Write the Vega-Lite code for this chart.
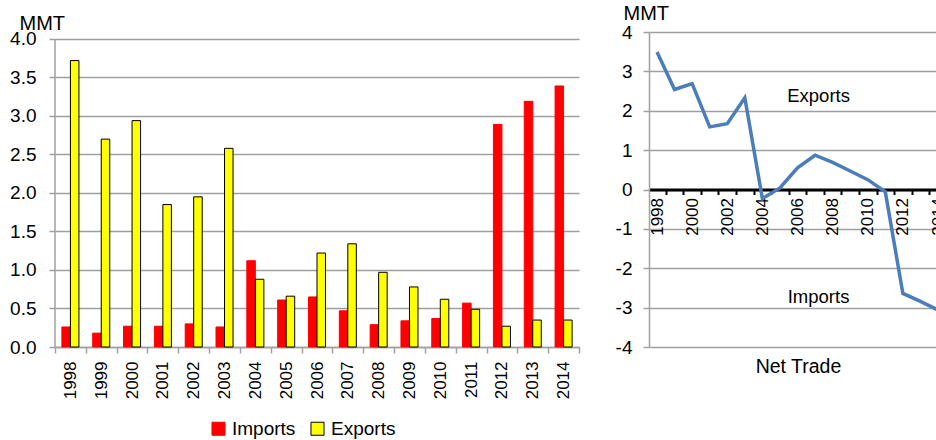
{
  "$schema": "https://vega.github.io/schema/vega-lite/v6.json",
  "padding": {"left": 9, "top": 3, "right": 0, "bottom": 0},
  "background": "#ffffff",
  "config": {
    "font": "Liberation Sans",
    "view": {"stroke": null},
    "axis": {
      "labelColor": "#000000",
      "labelFont": "Liberation Sans",
      "labelFontSize": 19,
      "titleFont": "Liberation Sans",
      "titleFontSize": 20,
      "titleFontWeight": "normal",
      "titleColor": "#000000",
      "gridColor": "#A0A0A0",
      "gridWidth": 1.5,
      "domainColor": "#A0A0A0",
      "domainWidth": 1.5,
      "tickColor": "#A0A0A0",
      "tickWidth": 1.5,
      "tickSize": 6
    },
    "legend": {"labelFont": "Liberation Sans"},
    "title": {"font": "Liberation Sans"}
  },
  "datasets": {
    "bars": [
      {"year": "1998", "type": "Imports", "value": 0.26}, {"year": "1998", "type": "Exports", "value": 3.72},
      {"year": "1999", "type": "Imports", "value": 0.18}, {"year": "1999", "type": "Exports", "value": 2.70},
      {"year": "2000", "type": "Imports", "value": 0.27}, {"year": "2000", "type": "Exports", "value": 2.94},
      {"year": "2001", "type": "Imports", "value": 0.27}, {"year": "2001", "type": "Exports", "value": 1.85},
      {"year": "2002", "type": "Imports", "value": 0.30}, {"year": "2002", "type": "Exports", "value": 1.95},
      {"year": "2003", "type": "Imports", "value": 0.26}, {"year": "2003", "type": "Exports", "value": 2.58},
      {"year": "2004", "type": "Imports", "value": 1.12}, {"year": "2004", "type": "Exports", "value": 0.88},
      {"year": "2005", "type": "Imports", "value": 0.61}, {"year": "2005", "type": "Exports", "value": 0.66},
      {"year": "2006", "type": "Imports", "value": 0.65}, {"year": "2006", "type": "Exports", "value": 1.22},
      {"year": "2007", "type": "Imports", "value": 0.47}, {"year": "2007", "type": "Exports", "value": 1.34},
      {"year": "2008", "type": "Imports", "value": 0.29}, {"year": "2008", "type": "Exports", "value": 0.97},
      {"year": "2009", "type": "Imports", "value": 0.34}, {"year": "2009", "type": "Exports", "value": 0.78},
      {"year": "2010", "type": "Imports", "value": 0.37}, {"year": "2010", "type": "Exports", "value": 0.62},
      {"year": "2011", "type": "Imports", "value": 0.57}, {"year": "2011", "type": "Exports", "value": 0.49},
      {"year": "2012", "type": "Imports", "value": 2.89}, {"year": "2012", "type": "Exports", "value": 0.27},
      {"year": "2013", "type": "Imports", "value": 3.19}, {"year": "2013", "type": "Exports", "value": 0.35},
      {"year": "2014", "type": "Imports", "value": 3.39}, {"year": "2014", "type": "Exports", "value": 0.35}
    ],
    "net": [
      {"year": 1998, "net": 3.49}, {"year": 1999, "net": 2.54}, {"year": 2000, "net": 2.69},
      {"year": 2001, "net": 1.59}, {"year": 2002, "net": 1.67}, {"year": 2003, "net": 2.33},
      {"year": 2004, "net": -0.23}, {"year": 2005, "net": 0.04}, {"year": 2006, "net": 0.55},
      {"year": 2007, "net": 0.87}, {"year": 2008, "net": 0.69}, {"year": 2009, "net": 0.47},
      {"year": 2010, "net": 0.25}, {"year": 2011, "net": -0.06}, {"year": 2012, "net": -2.64},
      {"year": 2013, "net": -2.84}, {"year": 2014, "net": -3.06}
    ]
  },
  "spacing": 35,
  "hconcat": [
    {
      "width": 524,
      "height": 315,
      "resolve": {"axis": {"x": "independent", "y": "independent"}},
      "layer": [
        {
          "data": {"name": "bars"},
          "mark": {"type": "bar", "strokeWidth": 1},
          "encoding": {
            "x": {
              "field": "year", "type": "nominal",
              "scale": {"paddingInner": 0, "paddingOuter": 0},
              "axis": {"title": null, "labelAngle": -90, "tickBand": "extent", "labelFontSize": 17, "labelPadding": 8, "grid": false}
            },
            "xOffset": {"field": "type", "type": "nominal", "sort": ["Imports", "Exports"], "scale": {"paddingOuter": 0.81, "paddingInner": 0}},
            "y": {
              "field": "value", "type": "quantitative",
              "scale": {"domain": [0, 4.0909], "nice": false},
              "axis": {
                "values": [0, 0.5, 1, 1.5, 2, 2.5, 3, 3.5, 4],
                "format": ".1f",
                "title": "MMT",
                "titleAngle": 0,
                "titleAlign": "left",
                "titleBaseline": "alphabetic",
                "titleX": -36,
                "titleY": -3,
                "labelPadding": 13,
                "domain": false,
                "grid": true
              }
            },
            "fill": {
              "field": "type", "type": "nominal", "sort": ["Imports", "Exports"],
              "scale": {"domain": ["Imports", "Exports"], "range": ["#FF0000", "#FFFF00"]},
              "legend": {"orient": "none", "legendX": 154, "legendY": 387, "direction": "horizontal", "title": null, "symbolType": "square", "symbolSize": 170, "labelFontSize": 19, "columnPadding": 12, "labelOffset": 4, "symbolStrokeWidth": 1}
            },
            "stroke": {
              "field": "type", "type": "nominal", "sort": ["Imports", "Exports"],
              "scale": {"domain": ["Imports", "Exports"], "range": ["#FF0000", "#000000"]},
              "legend": {"orient": "none", "legendX": 154, "legendY": 387, "direction": "horizontal", "title": null, "symbolType": "square", "symbolSize": 170, "labelFontSize": 19, "columnPadding": 12, "labelOffset": 4, "symbolStrokeWidth": 1}
            }
          }
        },
        {
          "data": {"values": [{"edge": "left"}]},
          "mark": {"type": "rule", "color": "#A0A0A0", "strokeWidth": 1.5},
          "encoding": {
            "x": {"datum": "1998", "type": "nominal", "bandPosition": 0, "axis": null},
            "y": {"datum": 0, "type": "quantitative", "axis": null},
            "y2": {"datum": 4}
          }
        }
      ]
    },
    {
      "width": 289,
      "height": 315,
      "title": {"text": "Net Trade", "orient": "bottom", "fontSize": 19.5, "fontWeight": "normal", "color": "#000000", "offset": 1, "dx": 5},
      "resolve": {"axis": {"x": "independent", "y": "independent"}},
      "layer": [
        {
          "data": {"name": "net"},
          "mark": {"type": "line", "color": "#4A7EBB", "strokeWidth": 3.5, "clip": true},
          "encoding": {
            "x": {
              "field": "year", "type": "quantitative",
              "scale": {"domain": [1997.544, 2014], "nice": false, "zero": false},
              "axis": {
                "title": null,
                "offset": -157.5,
                "values": [1998, 1998.5, 1999.5, 2000, 2000.5, 2001.5, 2002, 2002.5, 2003.5, 2004, 2004.5, 2005.5, 2006, 2006.5, 2007.5, 2008, 2008.5, 2009.5, 2010, 2010.5, 2011.5, 2012, 2012.5, 2013.5, 2014],
                "labelExpr": "datum.value % 2 === 0 ? '' + datum.value : ''",
                "labelAngle": -90,
                "labelFontSize": 17,
                "labelPadding": 3,
                "labelOverlap": false,
                "labelFlush": false,
                "domainColor": "#000000",
                "domainWidth": 3,
                "tickColor": "#000000",
                "tickWidth": 2,
                "tickSize": 5,
                "tickOpacity": {"condition": {"test": "datum.value % 1 === 0", "value": 0}, "value": 1},
                "grid": false
              }
            },
            "y": {
              "field": "net", "type": "quantitative",
              "scale": {"domain": [-4, 4], "nice": false},
              "axis": {
                "values": [-4, -3, -2, -1, 0, 1, 2, 3, 4],
                "labelExpr": "'' + datum.value",
                "title": "MMT",
                "titleAngle": 0,
                "titleAlign": "left",
                "titleBaseline": "alphabetic",
                "titleX": -26,
                "titleY": -13,
                "labelPadding": 11,
                "grid": true
              }
            }
          }
        },
        {
          "data": {"values": [{"label": "Exports"}]},
          "mark": {"type": "text", "fontSize": 18.5, "color": "#000000"},
          "encoding": {
            "x": {"datum": 2007.2, "type": "quantitative", "axis": null},
            "y": {"datum": 2.37, "type": "quantitative", "axis": null},
            "text": {"field": "label"}
          }
        },
        {
          "data": {"values": [{"label": "Imports"}]},
          "mark": {"type": "text", "fontSize": 18.5, "color": "#000000"},
          "encoding": {
            "x": {"datum": 2007.2, "type": "quantitative", "axis": null},
            "y": {"datum": -2.73, "type": "quantitative", "axis": null},
            "text": {"field": "label"}
          }
        }
      ]
    }
  ]
}
